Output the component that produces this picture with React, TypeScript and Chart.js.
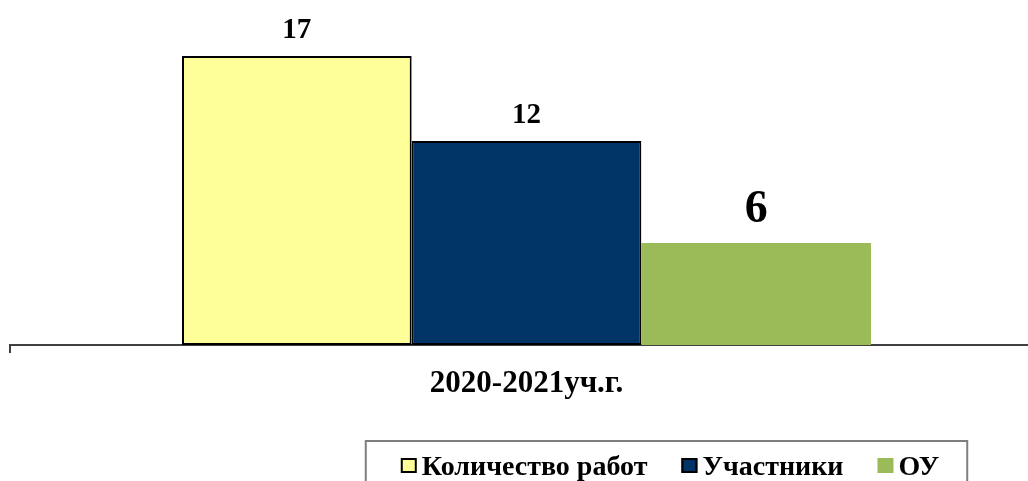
import React, { useEffect, useRef } from "react";
import { Chart, registerables } from "chart.js";

Chart.register(...registerables);

const categories = ["2020-2021уч.г."];
const seriesNames = ["Количество работ", "Участники", "ОУ"];
const workCount = [17];
const participants = [12];
const schools = [6];

const FONT = "'Liberation Serif', 'Times New Roman', serif";
const colors = ["#FFFF99", "#003366", "#9BBB59"];
const borders = [2, 2, 0];
const labelSizes = [29, 29, 46];
const labelGaps = [18, 18, 21];

const valueLabels = {
  id: "valueLabels",
  afterDatasetsDraw(chart: any) {
    const ctx = chart.ctx;
    ctx.save();
    chart.data.datasets.forEach((ds: any, i: number) => {
      const meta = chart.getDatasetMeta(i);
      meta.data.forEach((bar: any, j: number) => {
        ctx.font = `bold ${labelSizes[i]}px ${FONT}`;
        ctx.fillStyle = "#000";
        ctx.textAlign = "center";
        ctx.textBaseline = "alphabetic";
        ctx.fillText(String(ds.data[j]), bar.x, bar.y - labelGaps[i]);
      });
    });
    ctx.restore();
  },
};

const boxLegend = {
  id: "boxLegend",
  afterDraw(chart: any) {
    const ctx = chart.ctx;
    ctx.save();
    ctx.font = `bold 28px ${FONT}`;
    const sq = 16;
    const gapText = 5;
    const gapItem = 34;
    const widths = chart.data.datasets.map((d: any) => ctx.measureText(d.label).width);
    const total =
      widths.reduce((a: number, w: number) => a + sq + gapText + w, 0) + gapItem * (widths.length - 1);
    const center = 670;
    let x = center - total / 2;
    const left = x - 35;
    const right = x + total + 28;
    ctx.strokeStyle = "#7f7f7f";
    ctx.lineWidth = 2;
    ctx.strokeRect(left, 441, right - left, 80);
    const baseline = 475;
    chart.data.datasets.forEach((d: any, i: number) => {
      ctx.fillStyle = d.backgroundColor;
      ctx.fillRect(x, 458, sq, 15);
      if (d.borderWidth > 0) {
        ctx.strokeStyle = "#000";
        ctx.lineWidth = 2;
        ctx.strokeRect(x + 1, 459, sq - 2, 13);
      }
      ctx.fillStyle = "#000";
      ctx.textAlign = "left";
      ctx.textBaseline = "alphabetic";
      ctx.fillText(d.label, x + sq + gapText, baseline);
      x += sq + gapText + widths[i] + gapItem;
    });
    ctx.restore();
  },
};

export default function App() {
  const ref = useRef<HTMLCanvasElement | null>(null);
  useEffect(() => {
    if (!ref.current) return;
    const values = [workCount, participants, schools];
    const chart = new Chart(ref.current, {
      type: "bar",
      data: {
        labels: categories,
        datasets: seriesNames.map((name, i) => ({
          label: name,
          data: values[i],
          backgroundColor: colors[i],
          borderColor: "#000",
          borderWidth: borders[i],
          borderSkipped: false,
          categoryPercentage: 0.667,
          barPercentage: 1,
        })),
      },
      options: {
        responsive: false,
        animation: false,
        layout: { padding: { left: 10, right: 17, top: 5, bottom: 76 } },
        plugins: { legend: { display: false }, tooltip: { enabled: false } },
        scales: {
          x: {
            grid: {
              drawOnChartArea: false,
              drawTicks: true,
              tickLength: 8,
              offset: true,
              color: "#404040",
              lineWidth: 2,
            },
            border: { display: true, color: "#404040", width: 2 },
            ticks: {
              font: { family: FONT, size: 31, weight: "bold" },
              color: "#000",
              padding: 12,
            },
            afterFit: (scale: any) => {
              scale.height = 60;
            },
          },
          y: { display: false, min: 0, max: 20 },
        },
      },
      plugins: [valueLabels, boxLegend],
    });
    return () => chart.destroy();
  }, []);
  return (
    <div style={{ position: "absolute", left: 0, top: 0, width: 1028, height: 481, overflow: "hidden", background: "#fff" }}>
      <canvas ref={ref} width={1060} height={481} style={{ width: 1060, height: 481, display: "block" }} />
    </div>
  );
}
